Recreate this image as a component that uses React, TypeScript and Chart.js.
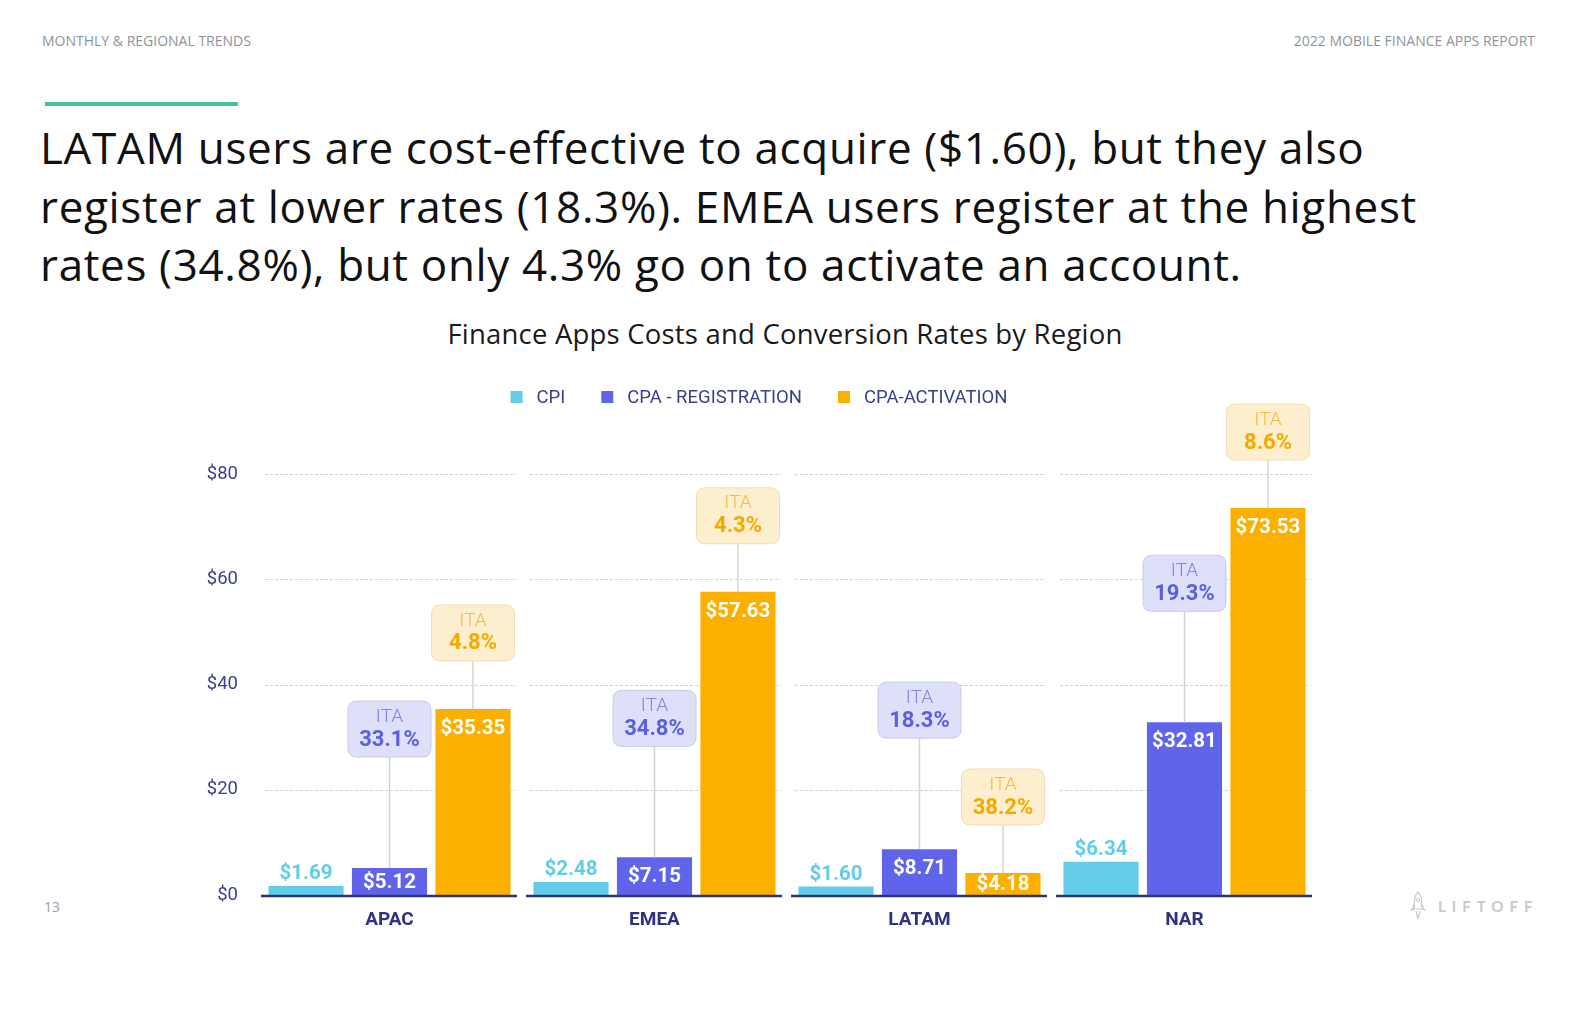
import React, { useEffect, useRef } from "react";
import { Chart, registerables } from "chart.js";

Chart.register(...registerables);

const regions = ["APAC", "EMEA", "LATAM", "NAR"];
const seriesNames = ["CPI", "CPA - REGISTRATION", "CPA-ACTIVATION"];
const cpi = [1.69, 2.48, 1.6, 6.34];
const cpaRegistration = [5.12, 7.15, 8.71, 32.81];
const cpaActivation = [35.35, 57.63, 4.18, 73.53];
const itaRegistration = [33.1, 34.8, 18.3, 19.3];
const itaActivation = [4.8, 4.3, 38.2, 8.6];
const yMin = 0;
const yMax = 80;
const yStep = 20;

const COLORS = ["#63cde9", "#6064ea", "#fbb000"];
const NAVY = "#2e3282";
const TICK = "#3b3f8c";

const money = (v: number) => "$" + v.toFixed(2);

const roundRect = (ctx: CanvasRenderingContext2D, x: number, y: number, w: number, h: number, r: number) => {
  ctx.beginPath();
  ctx.moveTo(x + r, y);
  ctx.lineTo(x + w - r, y);
  ctx.quadraticCurveTo(x + w, y, x + w, y + r);
  ctx.lineTo(x + w, y + h - r);
  ctx.quadraticCurveTo(x + w, y + h, x + w - r, y + h);
  ctx.lineTo(x + r, y + h);
  ctx.quadraticCurveTo(x, y + h, x, y + h - r);
  ctx.lineTo(x, y + r);
  ctx.quadraticCurveTo(x, y, x + r, y);
  ctx.closePath();
};

const gridPlugin = {
  id: "segGrid",
  beforeDatasetsDraw(chart: any) {
    const { ctx, chartArea, scales } = chart;
    const x = scales.x;
    const y = scales.y;
    const n = chart.data.labels.length;
    const cw = (chartArea.right - chartArea.left) / n;
    ctx.save();
    ctx.strokeStyle = "#d2d2d2";
    ctx.lineWidth = 1;
    ctx.setLineDash([3, 2]);
    for (let v = yMin + yStep; v <= yMax; v += yStep) {
      const py = Math.round(y.getPixelForValue(v)) + 0.5;
      for (let i = 0; i < n; i++) {
        const cx = x.getPixelForValue(i);
        ctx.beginPath();
        ctx.moveTo(cx - cw / 2 + 8, py);
        ctx.lineTo(cx + cw / 2 - 6, py);
        ctx.stroke();
      }
    }
    ctx.restore();
  },
  afterDatasetsDraw(chart: any) {
    const { ctx, chartArea, scales } = chart;
    const x = scales.x;
    const y = scales.y;
    const n = chart.data.labels.length;
    const cw = (chartArea.right - chartArea.left) / n;
    ctx.save();
    ctx.strokeStyle = NAVY;
    ctx.lineWidth = 2.5;
    const py = y.getPixelForValue(0) + 1;
    for (let i = 0; i < n; i++) {
      const cx = x.getPixelForValue(i);
      ctx.beginPath();
      ctx.moveTo(cx - cw / 2 + 4, py);
      ctx.lineTo(cx + cw / 2 - 5, py);
      ctx.stroke();
    }
    ctx.restore();
  },
};

const labelPlugin = {
  id: "valueLabels",
  afterDatasetsDraw(chart: any) {
    const { ctx } = chart;
    const base = chart.scales.y.getPixelForValue(0);
    ctx.save();
    ctx.textAlign = "center";
    const m0 = chart.getDatasetMeta(0);
    ctx.font = "bold 20.5px Roboto";
    ctx.fillStyle = COLORS[0];
    ctx.textBaseline = "alphabetic";
    m0.data.forEach((bar: any, i: number) => {
      ctx.fillText(money(cpi[i]), bar.x, bar.y - 7);
    });
    const inside = [cpaRegistration, cpaActivation];
    [1, 2].forEach((di, k) => {
      const meta = chart.getDatasetMeta(di);
      ctx.textBaseline = "middle";
      ctx.fillStyle = "#ffffff";
      ctx.font = "bold 20.5px Roboto";
      meta.data.forEach((bar: any, i: number) => {
        const cy = Math.min(bar.y + 20, (bar.y + base) / 2 + 1);
        ctx.fillText(money(inside[k][i]), bar.x, cy);
      });
    });
    const itas = [itaRegistration, itaActivation];
    const offsets = [111, 48];
    const fills = ["#dedff9", "#fdefcd"];
    const strokes = ["#c9cbe6", "#eedfb6"];
    const lineCols = ["#cfd0dc", "#ddd6c6"];
    const itaCols = ["#7f82e6", "#f6b93f"];
    const pctCols = ["#5a5ee0", "#f5a900"];
    [1, 2].forEach((di, k) => {
      const meta = chart.getDatasetMeta(di);
      meta.data.forEach((bar: any, i: number) => {
        const w = 83;
        const h = 56;
        const bottom = bar.y - offsets[k];
        const top = bottom - h;
        const left = bar.x - w / 2;
        ctx.strokeStyle = lineCols[k];
        ctx.lineWidth = 1.5;
        ctx.beginPath();
        ctx.moveTo(bar.x, bottom);
        ctx.lineTo(bar.x, bar.y);
        ctx.stroke();
        roundRect(ctx, left, top, w, h, 9);
        ctx.fillStyle = fills[k];
        ctx.fill();
        ctx.strokeStyle = strokes[k];
        ctx.lineWidth = 1;
        ctx.stroke();
        ctx.textBaseline = "middle";
        ctx.fillStyle = itaCols[k];
        ctx.font = "300 19px Roboto";
        ctx.fillText("ITA", bar.x, top + 16);
        ctx.fillStyle = pctCols[k];
        ctx.font = "bold 22px Roboto";
        ctx.fillText(itas[k][i].toFixed(1) + "%", bar.x, top + 39);
      });
    });
    ctx.restore();
  },
};

const CANVAS_LEFT = 150;
const CANVAS_TOP = 370;

const legendPlugin = {
  id: "customLegend",
  afterDraw(chart: any) {
    const { ctx } = chart;
    const centerX = 759 - CANVAS_LEFT;
    const cy = 397 - CANVAS_TOP;
    ctx.save();
    ctx.font = "18.5px Roboto";
    const box = 12;
    const gapText = 14;
    const gapItem = 36;
    const items = chart.data.datasets.map((d: any) => ({
      label: d.label,
      color: d.backgroundColor,
      w: box + gapText + ctx.measureText(d.label).width,
    }));
    const total = items.reduce((s: number, it: any) => s + it.w, 0) + gapItem * (items.length - 1);
    let x = centerX - total / 2;
    ctx.textBaseline = "middle";
    ctx.textAlign = "left";
    items.forEach((it: any) => {
      ctx.fillStyle = it.color;
      ctx.fillRect(x, cy - box / 2, box, box);
      ctx.fillStyle = TICK;
      ctx.fillText(it.label, x + box + gapText, cy + 1);
      x += it.w + gapItem;
    });
    ctx.restore();
  },
};

function BarChart() {
  const ref = useRef<HTMLCanvasElement | null>(null);
  useEffect(() => {
    if (!ref.current) return;
    const chart = new Chart(ref.current, {
      type: "bar",
      data: {
        labels: regions,
        datasets: [
          { label: seriesNames[0], data: cpi, backgroundColor: COLORS[0] },
          { label: seriesNames[1], data: cpaRegistration, backgroundColor: COLORS[1] },
          { label: seriesNames[2], data: cpaActivation, backgroundColor: COLORS[2] },
        ],
      },
      options: {
        responsive: false,
        animation: false,
        devicePixelRatio: 1,
        layout: { padding: { top: 104, right: 13, left: 0, bottom: 0 } },
        datasets: { bar: { categoryPercentage: 0.945, barPercentage: 0.9 } } as any,
        plugins: {
          legend: { display: false },
          title: { display: false },
          tooltip: { enabled: false },
        },
        scales: {
          x: {
            grid: { display: false, drawTicks: false },
            border: { display: false },
            ticks: { color: NAVY, font: { family: "Roboto", size: 19, weight: "bold" }, padding: 14 },
            afterFit: (s: any) => {
              s.height = 55;
            },
          },
          y: {
            min: yMin,
            max: yMax,
            grid: { display: false, drawTicks: false },
            border: { display: false },
            ticks: {
              stepSize: yStep,
              color: TICK,
              padding: 19,
              font: { family: "Roboto", size: 18.5 },
              callback: (v: any) => "$" + v,
            },
            afterFit: (s: any) => {
              s.width = 107;
            },
          },
        },
      },
      plugins: [gridPlugin, labelPlugin, legendPlugin],
    });
    return () => chart.destroy();
  }, []);
  return (
    <canvas
      ref={ref}
      width={1180}
      height={580}
      style={{ position: "absolute", left: CANVAS_LEFT, top: CANVAS_TOP, width: 1180, height: 580 }}
    />
  );
}

function Rocket() {
  return (
    <svg width="16" height="30" viewBox="0 0 16 30" style={{ position: "absolute", left: 1410, top: 891 }}>
      <path d="M8 1 C4 5 4 10 4.5 18 L11.5 18 C12 10 12 5 8 1 Z" fill="none" stroke="#c9c9c9" strokeWidth="1.2" />
      <circle cx="8" cy="9" r="1.6" fill="none" stroke="#c9c9c9" strokeWidth="1" />
      <path d="M4.5 13 L1.5 19 L4.5 18 M11.5 13 L14.5 19 L11.5 18" fill="none" stroke="#c9c9c9" strokeWidth="1.2" />
      <path d="M6 20 L8 28 L10 20" fill="none" stroke="#c9c9c9" strokeWidth="1.2" />
    </svg>
  );
}

export default function App() {
  const headStyle: React.CSSProperties = {
    position: "absolute",
    fontFamily: "'Open Sans', sans-serif",
    fontSize: 14,
    color: "#8d939c",
    whiteSpace: "nowrap",
    lineHeight: "16px",
  };
  return (
    <div style={{ position: "fixed", left: 0, top: 0, right: 0, bottom: 0, background: "#ffffff", overflow: "hidden" }}>
      <div style={{ ...headStyle, left: 42, top: 33 }}>MONTHLY &amp; REGIONAL TRENDS</div>
      <div style={{ ...headStyle, right: 51, top: 33, textAlign: "right" }}>2022 MOBILE FINANCE APPS REPORT</div>
      <div style={{ position: "absolute", left: 45, top: 102, width: 193, height: 4, background: "#3fc59d" }} />
      <div
        style={{
          position: "absolute",
          left: 40,
          top: 118,
          fontFamily: "'Open Sans', sans-serif",
          fontSize: 44,
          letterSpacing: 0.65,
          lineHeight: "58.5px",
          color: "#111111",
          whiteSpace: "nowrap",
        }}
      >
        LATAM users are cost-effective to acquire ($1.60), but they also
        <br />
        register at lower rates (18.3%). EMEA users register at the highest
        <br />
        rates (34.8%), but only 4.3% go on to activate an account.
      </div>
      <div
        style={{
          position: "absolute",
          left: 0,
          width: 1570,
          top: 317,
          textAlign: "center",
          fontFamily: "'Open Sans', sans-serif",
          fontSize: 27.5,
          letterSpacing: 0.2,
          lineHeight: "34px",
          color: "#1a1a1a",
          whiteSpace: "nowrap",
        }}
      >
        Finance Apps Costs and Conversion Rates by Region
      </div>
      <BarChart />
      <div style={{ position: "absolute", left: 44, top: 897, fontFamily: "'Open Sans', sans-serif", fontSize: 14, color: "#9aa0a8" }}>13</div>
      <Rocket />
      <div
        style={{
          position: "absolute",
          left: 1438,
          top: 897,
          fontFamily: "Lato, sans-serif",
          fontWeight: 700,
          fontSize: 15,
          letterSpacing: 6,
          color: "#c9c9c9",
          whiteSpace: "nowrap",
        }}
      >
        LIFTOFF
      </div>
    </div>
  );
}
